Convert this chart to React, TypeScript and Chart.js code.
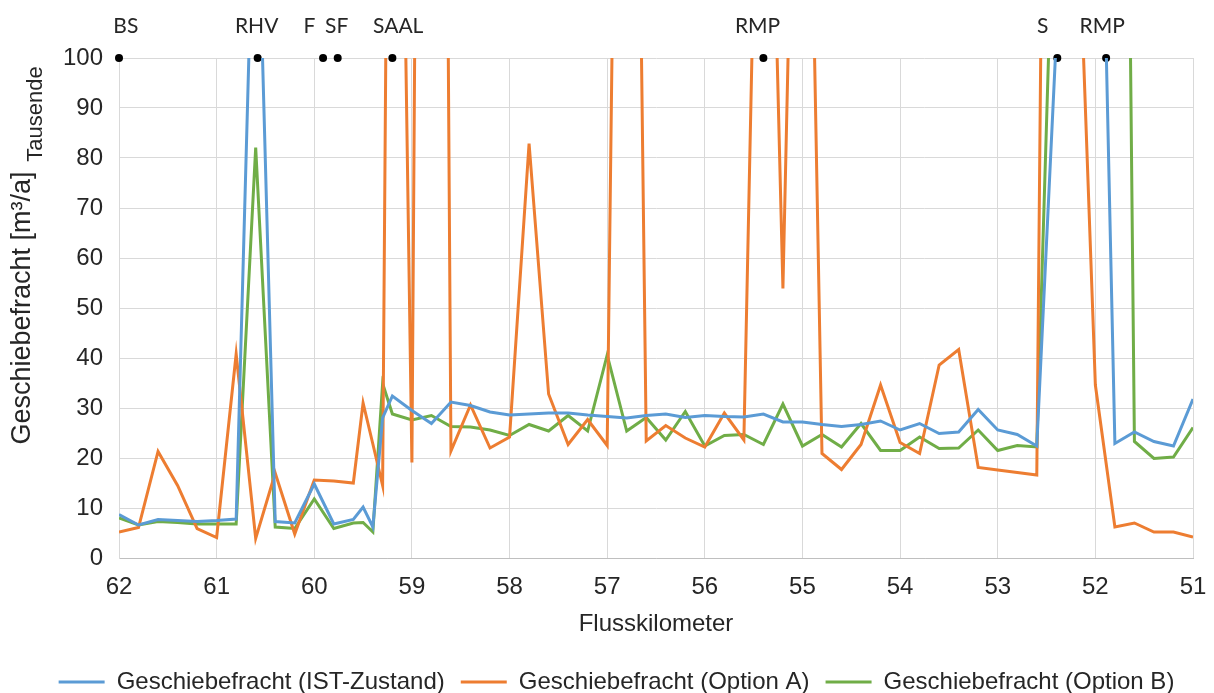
import React, { useEffect, useRef } from 'react';
import { Chart, registerables } from 'chart.js';

Chart.register(...registerables);

// Flusskilometer (x positions of the cross sections)
const km = [
  62, 61.8, 61.6, 61.4, 61.2, 61.0, 60.8, 60.6, 60.4, 60.2, 60.0, 59.8, 59.6, 59.5, 59.4, 59.3, 59.2,
  59.0, 58.8, 58.6, 58.4, 58.2, 58.0, 57.8, 57.6, 57.4, 57.2, 57.0, 56.8, 56.6, 56.4, 56.2, 56.0,
  55.8, 55.6, 55.4, 55.2, 55.0, 54.8, 54.6, 54.4, 54.2, 54.0, 53.8, 53.6, 53.4, 53.2, 53.0, 52.8,
  52.6, 52.4, 52.2, 52.0, 51.8, 51.6, 51.4, 51.2, 51.0,
];

// Geschiebefracht in Tausend m³/a
const istValues = [
  8.7, 6.6, 7.7, 7.5, 7.3, 7.5, 7.8, 150, 7.3, 7.0, 14.8, 6.8, 7.7, 10.2, 6.2, 28, 32.4,
  29.5, 26.9, 31.2, 30.5, 29.2, 28.6, 28.8, 29.0, 29.0, 28.6, 28.3, 28.0, 28.5, 28.8, 28.1, 28.5,
  28.3, 28.2, 28.8, 27.2, 27.2, 26.7, 26.3, 26.7, 27.4, 25.6, 26.9, 24.9, 25.2, 29.7, 25.6, 24.7,
  22.4, 104, 180, 200, 22.9, 25.2, 23.3, 22.4, 31.8,
];

const optionAValues = [
  5.2, 6.1, 21.3, 14.5, 5.9, 4.1, 40.8, 3.9, 17.0, 4.8, 15.6, 15.4, 15.0, 31.0, 22.8, 14.5, 280,
  19.1, 600, 21.4, 30.6, 22.0, 24.2, 82.9, 32.8, 22.7, 27.7, 22.5, 340, 23.4, 26.5, 24.0, 22.2,
  29.0, 23.6, 210, 53.9, 230, 20.9, 17.7, 22.7, 34.6, 23.1, 20.9, 38.6, 41.7, 18.1, 17.6, 17.1,
  16.6, 434, 143, 34.6, 6.2, 7.0, 5.2, 5.2, 4.2,
];

const optionBValues = [
  8.0, 6.6, 7.3, 7.1, 6.8, 6.8, 6.8, 82.1, 6.2, 5.9, 11.8, 5.9, 7.0, 7.1, 5.2, 34.9, 28.8,
  27.6, 28.5, 26.3, 26.2, 25.6, 24.5, 26.7, 25.4, 28.5, 25.4, 40.6, 25.4, 28.1, 23.6, 29.3, 22.4,
  24.5, 24.7, 22.7, 30.8, 22.4, 24.7, 22.2, 26.9, 21.5, 21.5, 24.2, 21.9, 22.0, 25.6, 21.5, 22.5,
  22.2, 152, 250, 300, 408, 23.3, 19.9, 20.2, 26.1,
];

// structures along the river (black dots at the top of the axis)
const markerKm = [62, 60.58, 59.91, 59.76, 59.2, 55.4, 52.39, 51.89];
const markerLabels = ['BS', 'RHV', 'F', 'SF', 'SAAL', 'RMP', 'S', 'RMP'];
const labelKm = [61.93, 60.59, 60.05, 59.77, 59.14, 55.46, 52.54, 51.93];
const markerLevel = 100;

const seriesLabels = [
  'Geschiebefracht (IST-Zustand)',
  'Geschiebefracht (Option A)',
  'Geschiebefracht (Option B)',
];
const seriesColors = ['#5B9BD5', '#ED7D31', '#70AD47'];

const FONT = '"Liberation Sans", Arial, sans-serif';
const LABEL_FONT = 'Lato, "Liberation Sans", sans-serif';
const TEXT = '#262626';

const labelsPlugin = {
  id: 'siteLabels',
  afterDraw(chart: any) {
    const { ctx } = chart;
    const x = chart.scales.x;
    ctx.save();
    ctx.fillStyle = TEXT;
    ctx.textAlign = 'center';
    ctx.textBaseline = 'middle';
    ctx.font = `21px ${LABEL_FONT}`;
    markerLabels.forEach((t, i) => {
      ctx.fillText(t, x.getPixelForValue(labelKm[i]), 26);
    });
    ctx.translate(36, 114);
    ctx.rotate(-Math.PI / 2);
    ctx.font = `22px ${FONT}`;
    ctx.fillText('Tausende', 0, 0);
    ctx.restore();
  },
};

export default function App() {
  const ref = useRef<HTMLCanvasElement | null>(null);

  useEffect(() => {
    if (!ref.current) return;
    const values = [istValues, optionAValues, optionBValues];
    const chart = new Chart(ref.current, {
      type: 'line',
      data: {
        datasets: [
          ...values.map((vals, s) => ({
            label: seriesLabels[s],
            data: km.map((k, i) => ({ x: k, y: vals[i] })),
            borderColor: seriesColors[s],
            backgroundColor: seriesColors[s],
            borderWidth: 3,
            pointRadius: 0,
            tension: 0,
          })),
          {
            type: 'scatter' as any,
            label: 'Bauwerke',
            data: markerKm.map((k) => ({ x: k, y: markerLevel })),
            backgroundColor: '#000',
            borderColor: '#000',
            pointRadius: 4,
            borderWidth: 0,
            showLine: false,
            clip: false as any,
          },
        ],
      },
      plugins: [labelsPlugin],
      options: {
        animation: false,
        responsive: false,
        maintainAspectRatio: false,
        layout: { padding: { left: 40, right: 21, top: 58, bottom: 0 } },
        plugins: {
          tooltip: { enabled: false },
          legend: {
            position: 'bottom',
            labels: {
              boxWidth: 46,
              boxHeight: 3,
              padding: 16,
              color: TEXT,
              font: { size: 24, family: FONT },
              generateLabels: (c: any) =>
                (Chart.defaults.plugins.legend.labels as any)
                  .generateLabels(c)
                  .filter((l: any) => l.datasetIndex < 3)
                  .map((l: any) => ({ ...l, lineWidth: 0, fillStyle: l.strokeStyle })),
            },
          },
        },
        scales: {
          x: {
            type: 'linear',
            reverse: true,
            min: 51,
            max: 62,
            afterFit: (s: any) => {
              s.height = 96;
              s.paddingRight = 0;
              s.paddingLeft = 0;
            },
            ticks: { stepSize: 1, color: TEXT, font: { size: 24, family: FONT }, padding: 15 },
            grid: { color: '#d9d9d9', drawTicks: false },
            border: { color: '#bfbfbf' },
            title: {
              display: true,
              text: 'Flusskilometer',
              color: TEXT,
              font: { size: 24, family: FONT },
              padding: { top: 0, bottom: 15 },
            },
          },
          y: {
            min: 0,
            max: 100,
            afterFit: (s: any) => {
              s.width = 79;
            },
            ticks: { stepSize: 10, color: TEXT, font: { size: 24, family: FONT }, padding: 16 },
            grid: { color: '#d9d9d9', drawTicks: false },
            border: { color: '#d9d9d9' },
            title: {
              display: true,
              text: 'Geschiebefracht [m³/a]',
              color: TEXT,
              font: { size: 27, family: FONT },
              padding: { top: -34, bottom: 0 },
            },
          },
        },
      },
    });
    return () => chart.destroy();
  }, []);

  return (
    <div
      style={{
        position: 'fixed',
        left: 0,
        top: 0,
        width: 1214,
        height: 693,
        overflow: 'hidden',
        background: '#fff',
      }}
    >
      <canvas ref={ref} width={1214} height={704} style={{ display: 'block' }} />
    </div>
  );
}
